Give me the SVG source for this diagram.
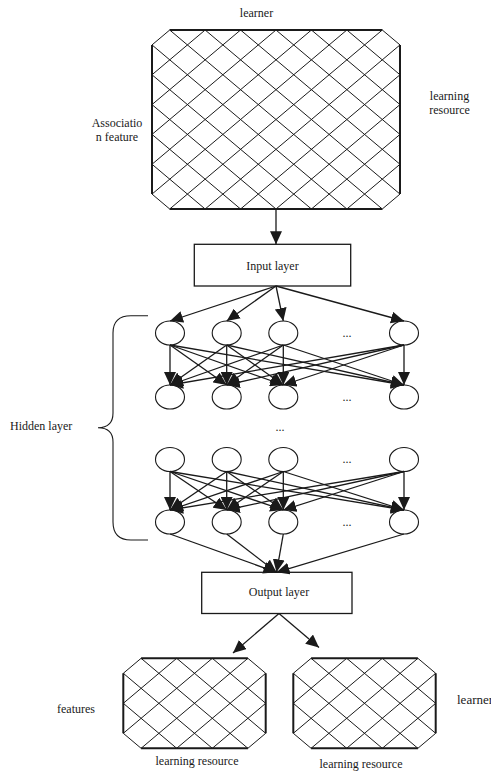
<svg xmlns="http://www.w3.org/2000/svg" width="491" height="775" viewBox="0 0 491 775">
  <style>
    text { font-family: "Liberation Serif", "Times New Roman", serif; font-size: 12px; fill: #1a1a1a; }
    .mid { text-anchor: middle; }
    .lat { fill: none; stroke: #1a1a1a; stroke-width: 1; vector-effect: non-scaling-stroke; }
    .edge { fill: none; stroke: #1a1a1a; stroke-width: 2; vector-effect: non-scaling-stroke; }
    .box { fill: #fff; stroke: #1a1a1a; stroke-width: 1.3; }
    .node { fill: #fff; stroke: #1a1a1a; stroke-width: 1.1; }
    .conn line { stroke: #1a1a1a; stroke-width: 1.3; marker-end: url(#ah); }
    .brace { fill: none; stroke: #1a1a1a; stroke-width: 1.1; }
  </style>
  <defs>
    <marker id="ah" markerUnits="userSpaceOnUse" markerWidth="13" markerHeight="12" refX="13" refY="6" orient="auto">
      <path d="M0,0 L13,6 L0,12 z" fill="#1a1a1a"/>
    </marker>
    <!-- 8 x 6 diamond lattice with clipped corners, in lattice units -->
    <g id="lattice86">
      <path class="lat" d="M0,5L1,6 M0,3L3,6 M0,1L5,6 M1,0L7,6 M3,0L8,5 M5,0L8,3 M7,0L8,1 M1,0L0,1 M3,0L0,3 M5,0L0,5 M7,0L1,6 M8,1L3,6 M8,3L5,6 M8,5L7,6"/>
      <path class="edge" d="M1,0H7 M1,6H7 M0,1V5 M8,1V5"/>
    </g>
  </defs>

  <!-- association feature matrix -->
  <g id="feature-matrix">
    <g transform="translate(152,30) scale(17.714,14.917)">
      <path class="lat" d="M0,11L1,12 M0,9L3,12 M0,7L5,12 M0,5L7,12 M0,3L9,12 M0,1L11,12 M1,0L13,12 M3,0L14,11 M5,0L14,9 M7,0L14,7 M9,0L14,5 M11,0L14,3 M13,0L14,1 M1,0L0,1 M3,0L0,3 M5,0L0,5 M7,0L0,7 M9,0L0,9 M11,0L0,11 M13,0L1,12 M14,1L3,12 M14,3L5,12 M14,5L7,12 M14,7L9,12 M14,9L11,12 M14,11L13,12"/>
      <path class="edge" d="M1,0H13 M1,12H13 M0,1V11 M14,1V11"/>
    </g>
    <text class="mid" x="256.5" y="17">learner</text>
    <text class="mid" x="449.5" y="100">learning</text>
    <text class="mid" x="449.5" y="114">resource</text>
    <text class="mid" x="117" y="127">Associatio</text>
    <text class="mid" x="117" y="141">n feature</text>
  </g>

  <g id="input-layer">
    <rect class="box" x="194.3" y="244.3" width="156.4" height="41.7"/>
    <text class="mid" x="272.5" y="270">Input layer</text>
  </g>

  <!-- hidden layer neurons -->
  <g id="hidden-row1">
    <ellipse class="node" cx="170" cy="333" rx="14.5" ry="12"/>
    <ellipse class="node" cx="226.7" cy="333" rx="14.5" ry="12"/>
    <ellipse class="node" cx="283.3" cy="333" rx="14.5" ry="12"/>
    <ellipse class="node" cx="404" cy="333" rx="14.5" ry="12"/>
    <text class="mid" x="347" y="337">...</text>
  </g>
  <g id="hidden-row2">
    <ellipse class="node" cx="170" cy="397" rx="14.5" ry="12"/>
    <ellipse class="node" cx="226.7" cy="397" rx="14.5" ry="12"/>
    <ellipse class="node" cx="283.3" cy="397" rx="14.5" ry="12"/>
    <ellipse class="node" cx="404" cy="397" rx="14.5" ry="12"/>
    <text class="mid" x="347" y="401">...</text>
  </g>
  <g id="hidden-gap">
    <text class="mid" x="280" y="431">...</text>
  </g>
  <g id="hidden-row3">
    <ellipse class="node" cx="170" cy="459.5" rx="14.5" ry="12"/>
    <ellipse class="node" cx="226.7" cy="459.5" rx="14.5" ry="12"/>
    <ellipse class="node" cx="283.3" cy="459.5" rx="14.5" ry="12"/>
    <ellipse class="node" cx="404" cy="459.5" rx="14.5" ry="12"/>
    <text class="mid" x="347" y="463">...</text>
  </g>
  <g id="hidden-row4">
    <ellipse class="node" cx="170" cy="522" rx="14.5" ry="12"/>
    <ellipse class="node" cx="226.7" cy="522" rx="14.5" ry="12"/>
    <ellipse class="node" cx="283.3" cy="522" rx="14.5" ry="12"/>
    <ellipse class="node" cx="404" cy="522" rx="14.5" ry="12"/>
    <text class="mid" x="347" y="526">...</text>
  </g>

  <g id="hidden-label">
    <path class="brace" d="M148,315.7 H131 Q113,315.7 113,333 V413 Q113,427.7 98,427.7 Q113,427.7 113,442 V522 Q113,540 131,540 H148"/>
    <text x="10" y="430">Hidden layer</text>
  </g>

  <g id="output-layer">
    <rect class="box" x="201.7" y="572.3" width="150.3" height="41.2"/>
    <text class="mid" x="279" y="596">Output layer</text>
  </g>

  <g id="learner-features">
    <use href="#lattice86" transform="translate(123.3,658.3) scale(17.8,15)"/>
    <text x="57" y="713">features</text>
    <text class="mid" x="197" y="765">learning resource</text>
  </g>

  <g id="resource-features">
    <use href="#lattice86" transform="translate(293.3,658.3) scale(17.8,15)"/>
    <text x="457" y="704" style="font-size:13px">learner</text>
    <text class="mid" x="361" y="768">learning resource</text>
  </g>

  <g id="connectors" class="conn">
    <line x1="276" y1="209" x2="276" y2="244.3"/>
    <!-- input layer to first hidden row -->
    <line x1="276" y1="286" x2="170" y2="321"/>
    <line x1="276" y1="286" x2="226.7" y2="321"/>
    <line x1="276" y1="286" x2="283.3" y2="321"/>
    <line x1="276" y1="286" x2="404" y2="321"/>
    <!-- row 1 to row 2, fully connected -->
    <line x1="170" y1="345" x2="170" y2="385"/>
    <line x1="170" y1="345" x2="226.7" y2="385"/>
    <line x1="170" y1="345" x2="283.3" y2="385"/>
    <line x1="170" y1="345" x2="404" y2="385"/>
    <line x1="226.7" y1="345" x2="170" y2="385"/>
    <line x1="226.7" y1="345" x2="226.7" y2="385"/>
    <line x1="226.7" y1="345" x2="283.3" y2="385"/>
    <line x1="226.7" y1="345" x2="404" y2="385"/>
    <line x1="283.3" y1="345" x2="170" y2="385"/>
    <line x1="283.3" y1="345" x2="226.7" y2="385"/>
    <line x1="283.3" y1="345" x2="283.3" y2="385"/>
    <line x1="283.3" y1="345" x2="404" y2="385"/>
    <line x1="404" y1="345" x2="170" y2="385"/>
    <line x1="404" y1="345" x2="226.7" y2="385"/>
    <line x1="404" y1="345" x2="283.3" y2="385"/>
    <line x1="404" y1="345" x2="404" y2="385"/>
    <!-- row 3 to row 4, fully connected -->
    <line x1="170" y1="471.5" x2="170" y2="510"/>
    <line x1="170" y1="471.5" x2="226.7" y2="510"/>
    <line x1="170" y1="471.5" x2="283.3" y2="510"/>
    <line x1="170" y1="471.5" x2="404" y2="510"/>
    <line x1="226.7" y1="471.5" x2="170" y2="510"/>
    <line x1="226.7" y1="471.5" x2="226.7" y2="510"/>
    <line x1="226.7" y1="471.5" x2="283.3" y2="510"/>
    <line x1="226.7" y1="471.5" x2="404" y2="510"/>
    <line x1="283.3" y1="471.5" x2="170" y2="510"/>
    <line x1="283.3" y1="471.5" x2="226.7" y2="510"/>
    <line x1="283.3" y1="471.5" x2="283.3" y2="510"/>
    <line x1="283.3" y1="471.5" x2="404" y2="510"/>
    <line x1="404" y1="471.5" x2="170" y2="510"/>
    <line x1="404" y1="471.5" x2="226.7" y2="510"/>
    <line x1="404" y1="471.5" x2="283.3" y2="510"/>
    <line x1="404" y1="471.5" x2="404" y2="510"/>
    <!-- last hidden row to output layer -->
    <line x1="170" y1="534" x2="276.5" y2="572.3"/>
    <line x1="226.7" y1="534" x2="276.5" y2="572.3"/>
    <line x1="283.3" y1="534" x2="276.5" y2="572.3"/>
    <line x1="404" y1="534" x2="276.5" y2="572.3"/>
    <!-- output layer to the two feature matrices -->
    <line x1="279" y1="613.5" x2="233" y2="653"/>
    <line x1="279" y1="613.5" x2="319" y2="647.5"/>
  </g>
</svg>
